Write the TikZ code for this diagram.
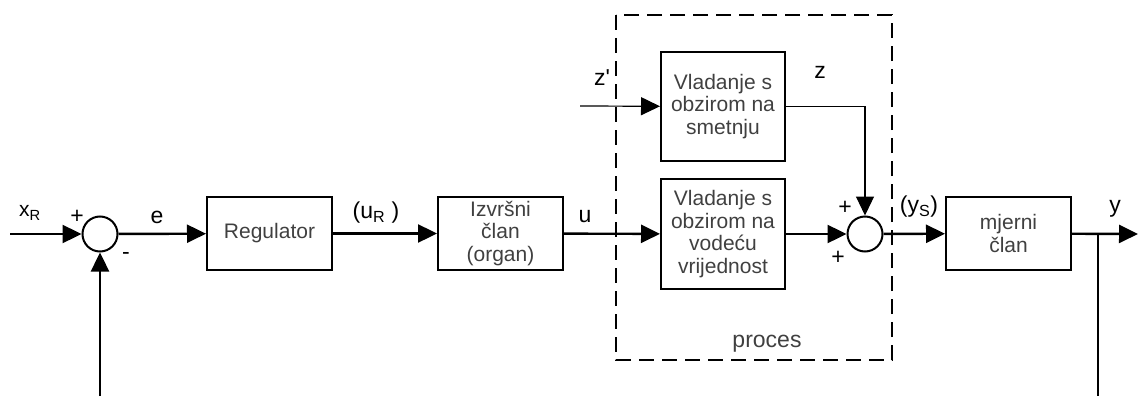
\documentclass[tikz,border=0pt]{standalone}
\usepackage{fontspec}
\setmainfont{Liberation Sans}
\usetikzlibrary{arrows.meta}

\tikzset{
  blok/.style={draw, line width=2pt, minimum width=125pt, inner sep=2pt,
    align=center, text=black!75, font=\fontsize{21}{22.5}\selectfont},
  zbroj/.style={draw, circle, line width=2pt, minimum size=35pt, inner sep=0pt},
  signal/.style={line width=2.4pt, -{Triangle[length=19pt,width=18pt]}},
  tanko/.style={line width=1.2pt, -{Triangle[length=19pt,width=18pt]}},
  oznaka/.style={inner sep=0pt, font=\fontsize{23}{25}\selectfont},
}

\begin{document}
\begin{tikzpicture}[x=1pt,y=-1pt] %Regulacijski krug
            \useasboundingbox (0,0) rectangle (1139,396);

            \coordinate (XR) at (10,234);
            \coordinate (ZC) at (580,106);
            \coordinate (Y) at (1138,234);
            \coordinate (G) at (1098,234);
            \coordinate (GD) at (1098,396);
            \coordinate (SD) at (100,396);

            \coordinate (P1) at (616,15);
            \coordinate (P2) at (892,360);

            \node[zbroj] (S1) at (100,234) {};
            \node[blok, minimum height=73pt] (R) at (269.5,233.5) {Regulator};
            \node[blok, minimum height=73pt] (I) at (500.5,233.5) {Izvršni\\član\\(organ)};
            \node[blok, minimum width=124pt, minimum height=109pt] (D) at (723,106.5) {Vladanje s\\obzirom na\\smetnju};
            \node[blok, minimum width=124pt, minimum height=110pt] (V) at (723,234) {Vladanje s\\obzirom na\\vodeću\\vrijednost};
            \node[zbroj] (S2) at (865,234) {};
            \node[blok, minimum height=73pt] (M) at (1008.5,233.5) {mjerni\\član};

            \draw[line width=2.4pt, dash pattern=on 15pt off 8pt] (P1) rectangle (P2);

            \draw[signal] (XR) -- (S1);
            \draw[signal] (S1) -- (R);
            \draw[signal] (R) -- (I);
            \draw[signal] (I) -- (V);
            \draw[tanko] (ZC) -- (D);
            \draw[tanko] (D.east) -| (S2.north);
            \draw[signal] (V) -- (S2);
            \draw[signal] (S2) -- (M);
            \draw[signal] (M) -- (Y);
            \draw[line width=2.4pt] (G) -- (GD);
            \draw[signal] (SD) -- (S1);

            \node[oznaka, font=\fontsize{21}{23}\selectfont] (lxr) at (30,213) {x\textsubscript{R}};
            \node[oznaka] (lp1) at (77,217) {+};
            \node[oznaka] (lm1) at (126,256) {-};
            \node[oznaka] (le) at (157,217) {e};
            \node[oznaka] (lur) at (376,213) {(u\textsubscript{R} )};
            \node[oznaka] (lu) at (585,217) {u};
            \node[oznaka] (lzc) at (602,78) {z\textquotesingle};
            \node[oznaka] (lz) at (820,72) {z};
            \node[oznaka] (lp2) at (845,208) {+};
            \node[oznaka] (lp3) at (838,258) {+};
            \node[oznaka] (lys) at (919,207) {(y\textsubscript{S})};
            \node[oznaka] (ly) at (1115,209) {y};
            \node[oznaka, text=black!75] (lpr) at (767,344) {proces};
        \end{tikzpicture}
\end{document}
